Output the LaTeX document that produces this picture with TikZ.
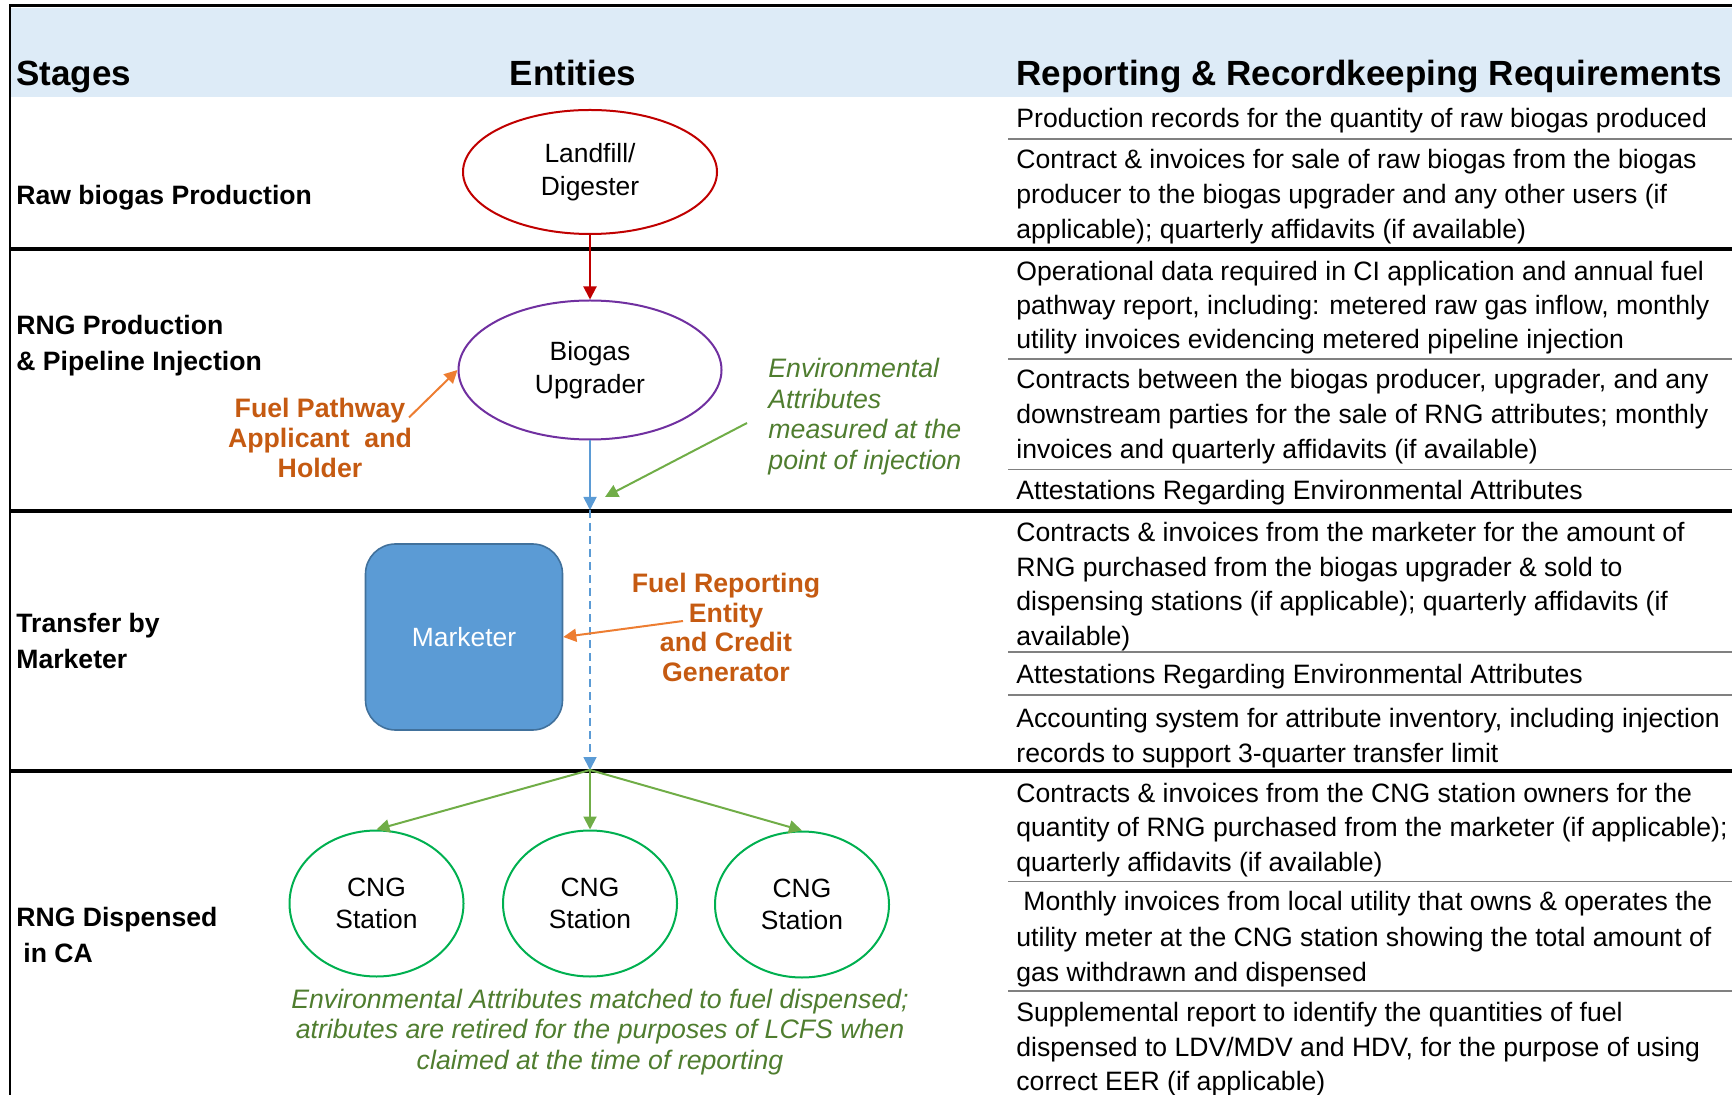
\documentclass[tikz,border=0pt]{standalone}
\usepackage{fontspec}
\setmainfont{Liberation Sans}
\usetikzlibrary{arrows.meta,shapes.geometric}
\definecolor{hdr}{HTML}{DDEBF7}
\definecolor{redc}{HTML}{C00000}
\definecolor{purc}{HTML}{7030A0}
\definecolor{bluec}{HTML}{5B9BD5}
\definecolor{blueborder}{HTML}{41719C}
\definecolor{orangearrow}{HTML}{ED7D31}
\definecolor{orangetext}{HTML}{C55A11}
\definecolor{greenarrow}{HTML}{70AD47}
\definecolor{greentext}{HTML}{4F7D2F}
\definecolor{cngc}{HTML}{00B050}
\definecolor{grayline}{HTML}{808080}
\newcommand\rtline[3]{\node[rtext] (#1) at (1016,#2) {#3};}
\tikzset{
  bodyfont/.style={font=\fontsize{13.3}{15.5}\selectfont},
  rtext/.style={bodyfont, anchor=base west, inner sep=0pt},
  stagetext/.style={font=\fontsize{13.3}{15}\selectfont\bfseries, anchor=base west, inner sep=0pt},
  headtext/.style={font=\fontsize{17.5}{20}\selectfont\bfseries, anchor=base west, inner sep=0pt},
  entity/.style={ellipse, line width=1pt, inner sep=0pt, align=center, font=\fontsize{13.2}{16.2}\selectfont},
  rowrule/.style={line width=2.2pt, black},
  sep/.style={line width=0.8pt, grayline},
  tip/.style={-{Triangle[length=6.5pt,width=6.5pt]}},
  orangelabel/.style={font=\fontsize{13.35}{14.8}\selectfont\bfseries, text=orangetext, align=center, inner sep=0pt},
  greenlabel/.style={font=\fontsize{13.35}{15.2}\selectfont\itshape, text=greentext, inner sep=0pt},
}
\begin{document}
\begin{tikzpicture}[x=0.5pt,y=-0.5pt]
\useasboundingbox (0,0) rectangle (1732,1095);
% header band
\fill[hdr] (10,8) rectangle (1732,97);
\draw[line width=1.6pt] (9,5.5) -- (1732,5.5);
\draw[line width=1pt] (10,5) -- (10,1095);
% row rules
\draw[rowrule] (10,249) -- (1732,249);
\draw[rowrule] (10,511) -- (1732,511);
\draw[rowrule] (10,771) -- (1732,771);
% thin separators in the requirements column
\foreach \yy in {139,359,469.5,652,695,881.5,991}
  \draw[sep] (1008,\yy) -- (1732,\yy);
% headers
\node[headtext] (hstages) at (16,86) {Stages};
\node[headtext, anchor=base] (hentities) at (573,86) {Entities};
\node[headtext] (hreq) at (1016,86) {Reporting \& Recordkeeping Requirements};
% stage labels
\node[stagetext] (s1) at (16,204.5) {Raw biogas Production};
\node[stagetext] (s2a) at (16,335) {RNG Production};
\node[stagetext] (s2b) at (16,371) {\& Pipeline Injection};
\node[stagetext] (s3a) at (16,632) {Transfer by};
\node[stagetext] (s3b) at (16,668.5) {Marketer};
\node[stagetext] (s4a) at (16,926) {RNG Dispensed};
\node[stagetext] (s4b) at (23,962) {in CA};
% entities
\node[entity, draw=redc, minimum width=127pt, minimum height=62pt] (land) at (590,172) {Landfill/\\Digester};
\node[entity, draw=purc, minimum width=131.5pt, minimum height=69.5pt] (upg) at (590,370) {Biogas\\Upgrader};
\node[rectangle, rounded corners=15pt, draw=blueborder, fill=bluec, line width=0.8pt, minimum width=98.5pt, minimum height=93pt, text=white, font=\fontsize{13.2}{15}\selectfont] (mkt) at (464,637) {Marketer};
\node[entity, draw=cngc, minimum width=87pt, minimum height=73pt] (c1) at (376.5,903.5) {CNG\\Station};
\node[entity, draw=cngc, minimum width=87pt, minimum height=73pt] (c2) at (590,903.5) {CNG\\Station};
\node[entity, draw=cngc, minimum width=87pt, minimum height=73pt] (c3) at (802,904.5) {CNG\\Station};
% flow connectors
\coordinate (inj) at (590,510);
\coordinate (split) at (590,770);
\draw[redc, line width=1pt, tip] (land) -- (upg);
\draw[bluec, line width=0.9pt, tip] (upg) -- (inj);
\draw[bluec, line width=0.9pt, dash pattern=on 4pt off 2.5pt, tip] (inj) -- (split);
\draw[greenarrow, line width=1pt, tip] (split) -- (c1.north);
\draw[greenarrow, line width=1pt, tip] (split) -- (c2.north);
\draw[greenarrow, line width=1pt, tip] (split) -- (c3.north);
% role labels
\node[orangelabel] (fpa) at (320,438) {Fuel Pathway\\Applicant~ and\\Holder};
\coordinate (fpastart) at (409,417.5);
\draw[orangearrow, line width=1pt, tip] (fpastart) -- (upg.west);
\node[orangelabel] (fre) at (726,627.5) {Fuel Reporting\\Entity\\and Credit\\Generator};
\coordinate (frestart) at (683,621);
\draw[orangearrow, line width=1pt, tip] (frestart) -- (mkt.east);
\node[greenlabel, align=left, anchor=west] (envinj) at (768,416.5) {Environmental\\Attributes\\measured at the\\point of injection};
\coordinate (envstart) at (747,423);
\coordinate (envend) at (605,497);
\draw[greenarrow, line width=1pt, tip] (envstart) -- (envend);
\node[greenlabel, align=center] (envdisp) at (600,1032) {Environmental Attributes matched to fuel dispensed;\\atributes are retired for the purposes of LCFS when\\claimed at the time of reporting};
% requirements
\rtline{r1a}{128}{Production records for the quantity of raw biogas produced}
\rtline{r1b}{169}{Contract \& invoices for sale of raw biogas from the biogas}
\rtline{r1c}{204}{producer to the biogas upgrader and any other users (if}
\rtline{r1d}{239}{applicable); quarterly affidavits (if available)}
\rtline{r2a}{281}{Operational data required in CI application and annual fuel}
\rtline{r2b}{315}{pathway report, including: metered raw gas inflow, monthly}
\rtline{r2c}{349}{utility invoices evidencing metered pipeline injection}
\rtline{r2d}{389}{Contracts between the biogas producer, upgrader, and any}
\rtline{r2e}{424}{downstream parties for the sale of RNG attributes; monthly}
\rtline{r2f}{459}{invoices and quarterly affidavits (if available)}
\rtline{r2g}{500}{Attestations Regarding Environmental Attributes}
\rtline{r3a}{541}{Contracts \& invoices from the marketer for the amount of}
\rtline{r3b}{576}{RNG purchased from the biogas upgrader \& sold to}
\rtline{r3c}{610}{dispensing stations (if applicable); quarterly affidavits (if}
\rtline{r3d}{645}{available)}
\rtline{r3e}{683}{Attestations Regarding Environmental Attributes}
\rtline{r3f}{727}{Accounting system for attribute inventory, including injection}
\rtline{r3g}{762}{records to support 3-quarter transfer limit}
\rtline{r4a}{802}{Contracts \& invoices from the CNG station owners for the}
\rtline{r4b}{836}{quantity of RNG purchased from the marketer (if applicable);}
\rtline{r4c}{871}{quarterly affidavits (if available)}
\node[rtext] (r4d) at (1023,910) {Monthly invoices from local utility that owns \& operates the};
\rtline{r4e}{946}{utility meter at the CNG station showing the total amount of}
\rtline{r4f}{981}{gas withdrawn and dispensed}
\rtline{r4g}{1021}{Supplemental report to identify the quantities of fuel}
\rtline{r4h}{1056}{dispensed to LDV/MDV and HDV, for the purpose of using}
\rtline{r4i}{1090}{correct EER (if applicable)}
\end{tikzpicture}
\end{document}
